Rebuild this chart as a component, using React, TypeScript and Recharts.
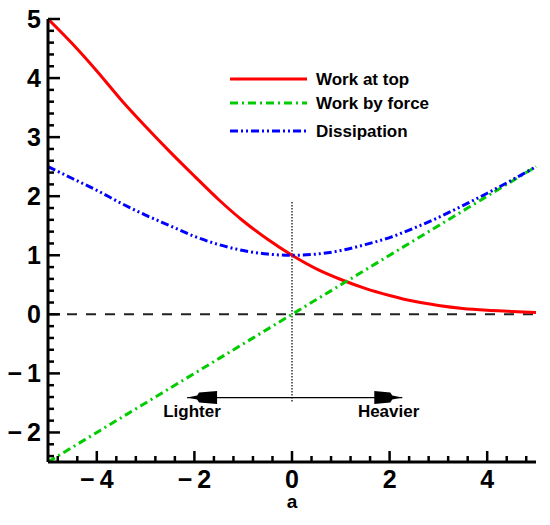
import React from "react";
import {
  LineChart,
  Line,
  XAxis,
  YAxis,
  ReferenceLine,
  ReferenceDot,
} from "recharts";

// values
const A = [-5, -4.5, -4, -3.5, -3, -2.5, -2, -1.5, -1, -0.5, 0, 0.5, 1, 1.5, 2, 2.5, 3, 3.5, 4, 4.5, 5];
const WORK_TOP = [5.0, 4.58, 4.12, 3.63, 3.18, 2.75, 2.34, 1.94, 1.58, 1.27, 1.0, 0.77, 0.59, 0.44, 0.32, 0.22, 0.15, 0.1, 0.07, 0.05, 0.03];
const WORK_FORCE = [-2.5, -2.25, -2.0, -1.75, -1.5, -1.25, -1.0, -0.75, -0.5, -0.25, 0, 0.25, 0.5, 0.75, 1.0, 1.25, 1.5, 1.75, 2.0, 2.25, 2.5];
const DISSIPATION = [2.5, 2.3, 2.1, 1.88, 1.68, 1.5, 1.32, 1.18, 1.08, 1.02, 1.0, 1.02, 1.08, 1.18, 1.3, 1.46, 1.64, 1.84, 2.05, 2.27, 2.5];

const X_MAJOR = [-4, -2, 0, 2, 4];
const Y_MAJOR = [-2, -1, 0, 1, 2, 3, 4, 5];

const SERIES = [
  { key: "top", name: "Work at top", color: "#ff0000", dash: undefined },
  { key: "force", name: "Work by force", color: "#00cc00", dash: "8 4 2 4" },
  { key: "diss", name: "Dissipation", color: "#0000ff", dash: "8 3 2 3 2 3" },
];

const data = A.map((a, i) => ({
  a,
  top: WORK_TOP[i],
  force: WORK_FORCE[i],
  diss: DISSIPATION[i],
}));

// minor ticks: every 0.4 on x, every 0.2 on y
const xTicks = Array.from({ length: 25 }, (_, i) => Math.round((-4.8 + i * 0.4) * 10) / 10);
const yTicks = Array.from({ length: 38 }, (_, i) => Math.round((-2.4 + i * 0.2) * 10) / 10);

const W = 550;
const H = 525;
const LEFT = 48;
const BOTTOM = 462;
const FONT = "Arial, 'Liberation Sans', sans-serif";

const fmt = (v: number) => (v < 0 ? `\u2212\u2009${Math.abs(v)}` : `${v}`);
const isMajor = (v: number, list: number[]) => list.some((m) => Math.abs(m - v) < 1e-6);

const XTick = (props: any) => {
  const { x, payload } = props;
  const major = isMajor(payload.value, X_MAJOR);
  return (
    <g>
      <line x1={x} x2={x} y1={BOTTOM} y2={BOTTOM - (major ? 11 : 6)} stroke="#000" strokeWidth={2.5} />
      {major && (
        <text x={x} y={488} textAnchor="middle" fontFamily={FONT} fontWeight="bold" fontSize={25} fill="#000">
          {fmt(payload.value)}
        </text>
      )}
    </g>
  );
};

const YTick = (props: any) => {
  const { y, payload } = props;
  const major = isMajor(payload.value, Y_MAJOR);
  return (
    <g>
      <line x1={LEFT} x2={LEFT + (major ? 12 : 6)} y1={y} y2={y} stroke="#000" strokeWidth={2.5} />
      {major && (
        <text x={41} y={y + 9} textAnchor="end" fontFamily={FONT} fontWeight="bold" fontSize={25} fill="#000">
          {fmt(payload.value)}
        </text>
      )}
    </g>
  );
};

const LeftHead = (p: any) => {
  const { cx, cy } = p;
  const pts = [
    [cx, cy],
    [cx + 10, cy - 2],
    [cx + 12, cy - 5],
    [cx + 30, cy - 6.5],
    [cx + 30, cy + 6.5],
    [cx + 12, cy + 5],
    [cx + 10, cy + 2],
  ];
  return <polygon points={pts.map((q) => q.join(",")).join(" ")} fill="#000" />;
};

const RightHead = (p: any) => {
  const { cx, cy } = p;
  const pts = [
    [cx, cy],
    [cx - 10, cy - 2],
    [cx - 12, cy - 5],
    [cx - 28, cy - 6.5],
    [cx - 28, cy + 6.5],
    [cx - 12, cy + 5],
    [cx - 10, cy + 2],
  ];
  return <polygon points={pts.map((q) => q.join(",")).join(" ")} fill="#000" />;
};

const label = (text: string) => (p: any) => (
  <text x={p.cx} y={p.cy + 19} textAnchor="middle" fontFamily={FONT} fontWeight="bold" fontSize={17} fill="#000">
    {text}
  </text>
);

export default function App() {
  return (
    <div style={{ position: "absolute", left: 0, top: 0, width: W, height: H, background: "#fff" }}>
      <LineChart width={W} height={H} data={data} margin={{ top: 19, right: 14, bottom: 0, left: 0 }}>
        <XAxis
          dataKey="a"
          type="number"
          domain={[-5, 5]}
          ticks={xTicks}
          interval={0}
          tick={XTick}
          tickLine={false}
          axisLine={{ stroke: "#000", strokeWidth: 3 }}
          height={63}
        />
        <YAxis
          type="number"
          domain={[-2.5, 5]}
          ticks={yTicks}
          interval={0}
          tick={YTick}
          tickLine={false}
          axisLine={{ stroke: "#000", strokeWidth: 3 }}
          width={48}
          allowDataOverflow
        />
        <ReferenceLine y={0} stroke="#222" strokeWidth={2} strokeDasharray="10 9" />
        <ReferenceLine
          segment={[{ x: 0, y: 1.9 }, { x: 0, y: -1.5 }]}
          stroke="#000"
          strokeWidth={1.2}
          strokeDasharray="1.5 1.5"
        />
        <ReferenceLine segment={[{ x: -2.15, y: -1.41 }, { x: 2.26, y: -1.41 }]} stroke="#000" strokeWidth={1.2} />
        <ReferenceDot x={-2.15} y={-1.41} r={1} shape={LeftHead} />
        <ReferenceDot x={2.26} y={-1.41} r={1} shape={RightHead} />
        <ReferenceDot x={-2.05} y={-1.41} r={1} shape={label("Lighter")} />
        <ReferenceDot x={1.98} y={-1.41} r={1} shape={label("Heavier")} />
        {SERIES.map((s) => (
          <Line
            key={s.key}
            dataKey={s.key}
            name={s.name}
            type="monotone"
            stroke={s.color}
            strokeWidth={3}
            strokeDasharray={s.dash}
            dot={false}
            isAnimationActive={false}
          />
        ))}
        <text x={292} y={508} textAnchor="middle" fontFamily={FONT} fontWeight="bold" fontSize={19} fill="#000">
          a
        </text>
      </LineChart>
      <svg width={W} height={H} style={{ position: "absolute", left: 0, top: 0, pointerEvents: "none" }}>
        {SERIES.map((s, i) => {
          const y = [79, 103, 131][i];
          return (
            <g key={s.key}>
              <line x1={230} x2={307} y1={y} y2={y} stroke={s.color} strokeWidth={3} strokeDasharray={s.dash} />
              <text x={316} y={y + 6} fontFamily={FONT} fontWeight="bold" fontSize={17} fill="#000">
                {s.name}
              </text>
            </g>
          );
        })}
      </svg>
    </div>
  );
}
